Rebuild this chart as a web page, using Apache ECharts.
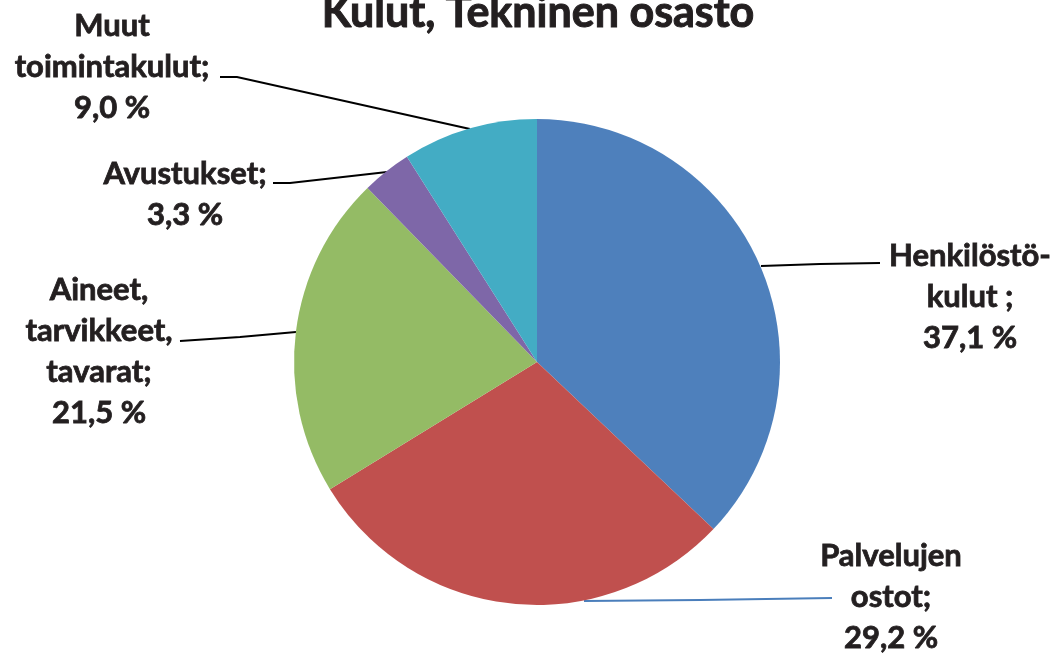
<!DOCTYPE html>
<html>
<head>
<meta charset="utf-8">
<script src="https://cdn.jsdelivr.net/npm/echarts@6/dist/echarts.min.js"></script>
<style>
  html, body { margin: 0; padding: 0; background: #fff; }
  #chart { width: 1054px; height: 654px; }
</style>
</head>
<body>
<div id="chart"></div>
<script>
// data
var categories = ['Henkilöstö-\nkulut ', 'Palvelujen\nostot', 'Aineet,\ntarvikkeet,\ntavarat', 'Avustukset', 'Muut\ntoimintakulut'];
var shares = [37.1, 29.2, 21.5, 3.3, 9.0];
var colors = ['#4e80bc', '#c0504e', '#94bb65', '#7e67a8', '#43acc4'];

// label placement (centre of each text block) and leader lines
var labelPos = [[970, 297], [891, 597], [99, 351], [185, 194], [112, 67]];
var linePts = [
  [[761, 266], [820, 264], [880, 263]],
  [[584, 601], [700, 600], [832, 598]],
  [[296, 332], [240, 337], [180, 341]],
  [[387, 172], [290, 183], [273, 183]],
  [[470, 129], [237, 77], [220, 77]]
];

var chart = echarts.init(document.getElementById('chart'));

var pieData = [];
for (var i = 0; i < categories.length; i++) {
  pieData.push({
    name: categories[i],
    value: shares[i],
    itemStyle: { color: colors[i] },
    labelLine: {
      lineStyle: { color: i === 1 ? '#4a7ebb' : '#000', width: 2 }
    }
  });
}

var option = {
  animation: false,
  title: {
    text: 'Kulut, Tekninen osasto',
    left: 533,
    top: -13,
    textAlign: 'center',
    textStyle: {
      fontFamily: 'Lato', fontWeight: 'bold', fontSize: 43, color: '#231f20',
      textBorderColor: '#231f20', textBorderWidth: 1
    }
  },
  series: [{
    type: 'pie',
    center: [537, 362],
    radius: 243,
    startAngle: 90,
    clockwise: true,
    data: pieData,
    itemStyle: { borderWidth: 0 },
    label: {
      show: true,
      fontFamily: 'Lato',
      fontWeight: 'bold',
      fontSize: 31,
      lineHeight: 41,
      color: '#231f20',
      textBorderColor: '#231f20',
      textBorderWidth: 0.8,
      align: 'center',
      formatter: function (p) {
        return p.name + ';\n' + p.value.toFixed(1).replace('.', ',') + ' %';
      }
    },
    labelLine: { show: true },
    labelLayout: function (params) {
      var k = params.dataIndex;
      return {
        x: labelPos[k][0],
        y: labelPos[k][1],
        align: 'center',
        verticalAlign: 'middle',
        labelLinePoints: linePts[k]
      };
    }
  }]
};

chart.setOption(option);
</script>
</body>
</html>
